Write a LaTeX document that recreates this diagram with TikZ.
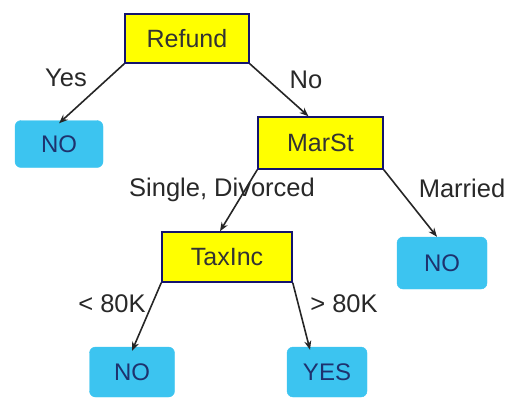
\documentclass[tikz,border=0pt]{standalone}
\usepackage{fontspec}
\setmainfont{Liberation Sans}
\usetikzlibrary{arrows.meta}
\definecolor{testfill}{RGB}{255,255,0}
\definecolor{testedge}{RGB}{20,20,110}
\definecolor{leaffill}{RGB}{60,196,240}
\definecolor{leaftext}{RGB}{30,50,110}
\definecolor{labeltext}{RGB}{40,40,40}
\tikzset{
  testnode/.style={draw=testedge, line width=1.5pt, fill=testfill, rectangle,
    inner sep=0pt, font=\fontsize{25}{27}\selectfont, text=black!80},
  leafnode/.style={draw=leaffill, fill=leaffill, rectangle, rounded corners=6pt,
    inner sep=0pt, font=\fontsize{24}{26}\selectfont, text=leaftext},
  branch/.style={line width=1.6pt, draw=black!85, -{Stealth[length=9pt,width=7pt]}},
  edgelabel/.style={font=\fontsize{25.5}{27}\selectfont, text=labeltext, inner sep=0pt}
}
\begin{document}
\begin{tikzpicture}[x=1pt,y=-1pt]
\useasboundingbox (0,0) rectangle (510,399);

% internal test nodes
\node[testnode, minimum width=124pt, minimum height=49pt] (refund) at (187,38.5) {Refund};
\node[testnode, minimum width=125pt, minimum height=52pt] (marst) at (320.5,143) {MarSt};
\node[testnode, minimum width=130pt, minimum height=50pt] (taxinc) at (227,257) {TaxInc};

% leaf nodes
\node[leafnode, minimum width=88pt, minimum height=47pt] (leafa) at (59,144) {NO};
\node[leafnode, minimum width=90pt, minimum height=52pt] (leafb) at (442,263) {NO};
\node[leafnode, minimum width=85pt, minimum height=50pt] (leafc) at (132,372) {NO};
\node[leafnode, minimum width=80pt, minimum height=50pt] (leafd) at (327,372) {YES};

% branches
\draw[branch] (refund.south west) -- ([yshift=-3pt]leafa.north);
\draw[branch] (refund.south east) -- ([xshift=-12pt]marst.north);
\draw[branch] (marst.south west) -- ([xshift=-7pt]taxinc.north);
\draw[branch] (marst.south east) -- ([xshift=-5pt]leafb.north);
\draw[branch] (taxinc.south west) -- ([yshift=-4pt]leafc.north);
\draw[branch] (taxinc.south east) -- ([xshift=-17pt,yshift=-3pt]leafd.north);

% branch labels
\node[edgelabel] (lyes) at (66,78) {Yes};
\node[edgelabel] (lno) at (306,80) {No};
\node[edgelabel] (lsingle) at (222,190) {Single, Divorced};
\node[edgelabel] (lmarried) at (462,188) {Married};
\node[edgelabel] (llow) at (112,304) {< 80K};
\node[edgelabel] (lhigh) at (344,304) {> 80K};
\end{tikzpicture}
\end{document}
